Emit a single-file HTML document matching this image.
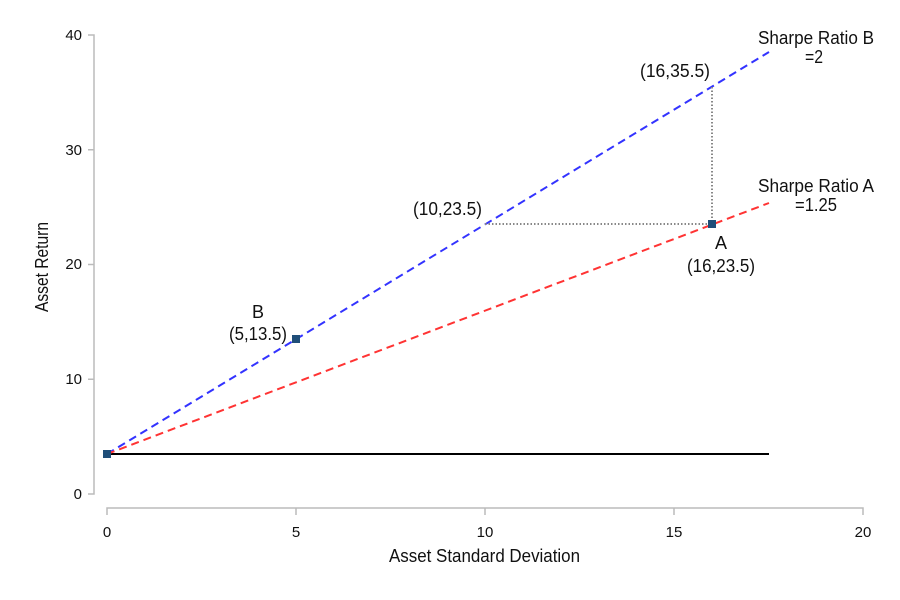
<!DOCTYPE html>
<html><head><style>body{margin:0;background:#fff}svg{display:block;font-family:"Liberation Sans",sans-serif}</style></head>
<body>
<svg width="900" height="600" viewBox="0 0 900 600">
<g stroke="#bbb" stroke-width="1.5" fill="none">
<path d="M88,35H94V494H88M94,149.8H88M94,264.5H88M94,379.3H88"/>
<path d="M107,515V508H863V515M296,508V515M485,508V515M674,508V515"/>
</g>
<g font-size="15" fill="#111" text-anchor="end">
<text x="82" y="499">0</text><text x="82" y="384">10</text><text x="82" y="269">20</text><text x="82" y="155">30</text><text x="82" y="40">40</text>
</g>
<g font-size="15" fill="#111" text-anchor="middle">
<text x="107" y="537">0</text><text x="296" y="537">5</text><text x="485" y="537">10</text><text x="674" y="537">15</text><text x="863" y="537">20</text>
</g>
<text x="389" y="562" font-size="18" fill="#111" textLength="191" lengthAdjust="spacingAndGlyphs">Asset Standard Deviation</text>
<text transform="translate(48,312) rotate(-90)" font-size="18" fill="#111" textLength="90" lengthAdjust="spacingAndGlyphs">Asset Return</text>
<line x1="107" y1="454" x2="769" y2="454" stroke="#000" stroke-width="2"/>
<line x1="107" y1="454" x2="769" y2="52" stroke="#33f" stroke-width="2" stroke-dasharray="8,5"/>
<line x1="107" y1="454" x2="769" y2="203" stroke="#f33" stroke-width="2" stroke-dasharray="8,5"/>
<g stroke="#888" stroke-width="2" stroke-dasharray="1.5,2">
<line x1="485" y1="224" x2="712" y2="224"/><line x1="712" y1="87" x2="712" y2="224"/>
</g>
<g fill="#1f4e79">
<rect x="103" y="450" width="8" height="8"/><rect x="292" y="335" width="8" height="8"/><rect x="708" y="220" width="8" height="8"/>
</g>
<g font-size="18" fill="#111" lengthAdjust="spacingAndGlyphs">
<text x="758" y="44" textLength="116" lengthAdjust="spacingAndGlyphs">Sharpe Ratio B</text>
<text x="805" y="63" textLength="18" lengthAdjust="spacingAndGlyphs">=2</text>
<text x="758" y="192" textLength="116" lengthAdjust="spacingAndGlyphs">Sharpe Ratio A</text>
<text x="795" y="211" textLength="42" lengthAdjust="spacingAndGlyphs">=1.25</text>
<text x="640" y="77" textLength="70" lengthAdjust="spacingAndGlyphs">(16,35.5)</text>
<text x="413" y="215" textLength="69" lengthAdjust="spacingAndGlyphs">(10,23.5)</text>
<text x="715" y="249">A</text>
<text x="687" y="272" textLength="68" lengthAdjust="spacingAndGlyphs">(16,23.5)</text>
<text x="252" y="318">B</text>
<text x="229" y="340" textLength="58" lengthAdjust="spacingAndGlyphs">(5,13.5)</text>
</g>
</svg>
</body></html>
